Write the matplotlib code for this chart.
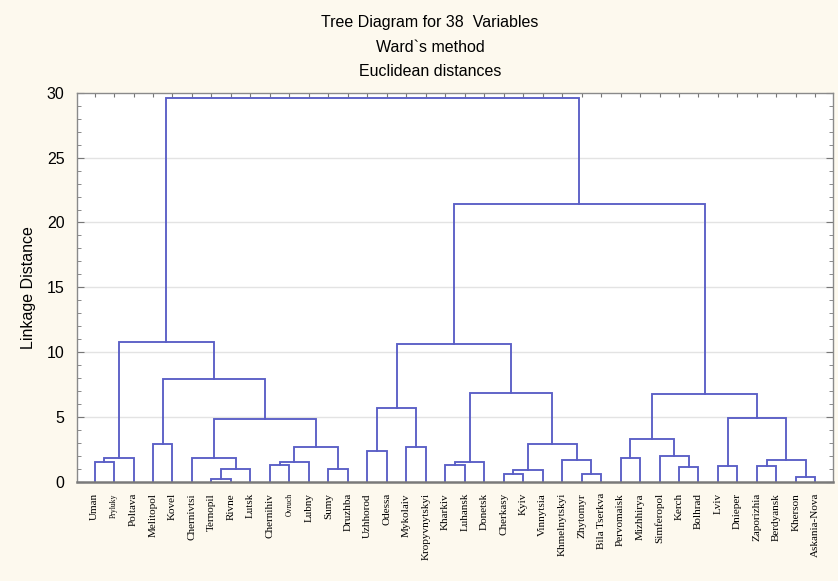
import matplotlib.pyplot as plt
import numpy as np

# leaf order as shown on the x axis
leaf_labels = [
    "Uman", "Pryluky", "Poltava", "Melitopol", "Kovel", "Chernivtsi",
    "Ternopil", "Rivne", "Lutsk", "Chernihiv", "Ovruch", "Lubny", "Sumy",
    "Druzhba", "Uzhhorod", "Odessa", "Mykolaiv", "Kropyvnytskyi", "Kharkiv",
    "Luhansk", "Donetsk", "Cherkasy", "Kyiv", "Vinnytsia", "Khmelnytskyi",
    "Zhytomyr", "Bila Tserkva", "Pervomaisk", "Mizhhirya", "Simferopol",
    "Kerch", "Bolhrad", "Lviv", "Dnieper", "Zaporizhia", "Berdyansk",
    "Kherson", "Askania-Nova",
]
small_labels = ["Pryluky", "Ovruch"]

# merges like a linkage matrix: new node ids start at 38
merge_left = [0, 38, 3, 6, 41, 5, 9, 44, 12, 45, 43, 40, 39,
              14, 16, 51, 18, 54, 21, 56, 25, 24, 57, 55, 53,
              27, 30, 29, 63, 32, 34, 36, 68, 67, 66, 62, 50]
merge_right = [1, 2, 4, 7, 8, 42, 10, 11, 13, 46, 47, 48, 49,
               15, 17, 52, 19, 20, 22, 23, 26, 58, 59, 60, 61,
               28, 31, 64, 65, 33, 35, 37, 69, 70, 71, 72, 73]
merge_height = [1.57, 1.83, 2.90, 0.20, 1.03, 1.87, 1.31, 1.52, 1.03, 2.70,
                4.88, 7.94, 10.82, 2.39, 2.70, 5.73, 1.31, 1.57, 0.59, 0.95,
                0.64, 1.67, 2.95, 6.84, 10.64, 1.83, 1.16, 1.98, 3.29, 1.26,
                1.26, 0.39, 1.67, 4.96, 6.76, 21.43, 29.58]

line_color = "#5a5ec6"


def main():
    n = len(leaf_labels)
    node_x = {i: i + 1.0 for i in range(n)}
    node_h = {i: 0.0 for i in range(n)}

    fig = plt.figure(figsize=(8.38, 5.81), dpi=100, facecolor="#fdf9ee")
    ax = fig.add_axes([0.0919, 0.1704, 0.902, 0.670])
    ax.set_facecolor("white")

    # grid
    for g in [5, 10, 15, 20, 25]:
        ax.axhline(g, color="#e3e3e3", lw=1.0, zorder=0)

    # draw the tree
    for k, (a, b, h) in enumerate(zip(merge_left, merge_right, merge_height)):
        xa, xb = node_x[a], node_x[b]
        ax.plot([xa, xa, xb, xb], [node_h[a], h, h, node_h[b]],
                color=line_color, lw=1.35, solid_joinstyle="miter", zorder=2)
        node_x[n + k] = (xa + xb) / 2
        node_h[n + k] = h

    ax.set_xlim(0.1, 38.9)
    ax.set_ylim(0, 30)

    # axis styling
    for s in ax.spines.values():
        s.set_color("#8a8a8a")
        s.set_linewidth(1.0)
    ax.spines["bottom"].set_linewidth(1.8)
    ax.spines["bottom"].set_color("#7a7a7a")

    ax.set_yticks(np.arange(0, 31, 5))
    ax.set_yticks(np.arange(0, 31, 1), minor=True)
    ax.tick_params(axis="y", which="both", direction="in", left=True, right=True,
                   color="#777777", labelsize=11.5, pad=9)
    ax.tick_params(axis="y", which="major", length=5)
    ax.tick_params(axis="y", which="minor", length=3)
    ax.set_xticks(np.arange(1, n + 1))
    ax.set_xticklabels(leaf_labels, rotation=90, family="Liberation Serif",
                       fontsize=8)
    for lbl in ax.get_xticklabels():
        if lbl.get_text() in small_labels:
            lbl.set_fontsize(5.5)
    ax.tick_params(axis="x", which="both", direction="in", bottom=False,
                   top=True, length=3, color="#777777", pad=8)
    for lbl in ax.get_yticklabels():
        lbl.set_family("Liberation Sans")

    ax.set_ylabel("Linkage Distance", family="Liberation Sans", fontsize=11.5,
                  labelpad=8)

    titles = ["Tree Diagram for 38  Variables", "Ward`s method",
              "Euclidean distances"]
    for t, y in zip(titles, [23, 47, 72]):
        fig.text(430 / 838, 1 - y / 581, t, ha="center", va="center",
                 family="Liberation Sans", fontsize=11.5)

    fig.savefig("out.png", dpi=100, facecolor=fig.get_facecolor())


if __name__ == "__main__":
    main()
